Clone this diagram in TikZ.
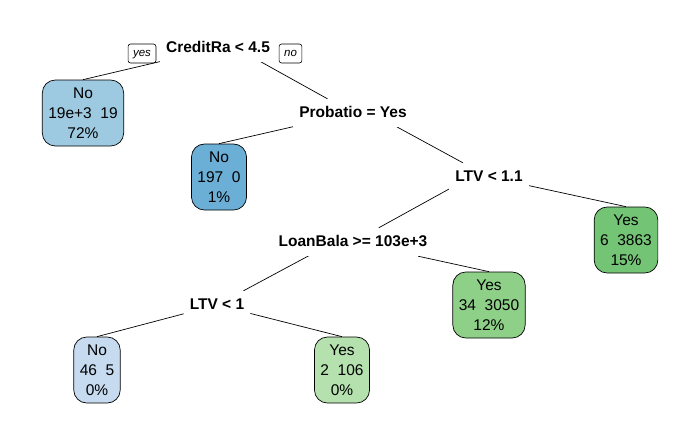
\documentclass[tikz,border=0pt]{standalone}
\usepackage{fontspec}
\setmainfont{Liberation Sans}
\usetikzlibrary{backgrounds}
\definecolor{bluelight}{RGB}{198, 219, 239}
\definecolor{bluemid}{RGB}{158, 202, 225}
\definecolor{bluedark}{RGB}{107, 174, 214}
\definecolor{greenlight}{RGB}{181, 225, 174}
\definecolor{greenmid}{RGB}{142, 208, 136}
\definecolor{greendark}{RGB}{116, 196, 118}

\begin{document}
\begin{tikzpicture}[x=1pt,y=-1pt,
  split/.style={fill=white, font=\fontsize{15.5}{18}\selectfont\bfseries, text height=11pt, text depth=3pt, inner xsep=6pt, inner ysep=7pt},
  leaf/.style={draw, line width=0.7pt, rounded corners=13pt, align=center, font=\fontsize{15.5}{20}\selectfont, inner xsep=6pt, minimum height=66pt},
  tag/.style={draw, line width=0.6pt, rounded corners=2.5pt, font=\fontsize{11.5}{13}\selectfont\itshape, inner xsep=5pt, text height=8.5pt, text depth=2.5pt, minimum height=19pt},
  branch/.style={line width=0.7pt}]
\useasboundingbox (0,0) rectangle (700,432);
% Split labels
\node[split] (root) at (218,48) {CreditRa < 4.5};
\node[split] (probatio) at (353,113) {Probatio = Yes};
\node[split] (ltvA) at (489,177) {LTV < 1.1};
\node[split] (loanbala) at (353,242) {LoanBala >= 103e+3};
\node[split] (ltvB) at (217,305) {LTV < 1};
\node[tag] (yes) at (142,53.5) {yes};
\node[tag] (no) at (290.5,53.5) {no};
% Leaves
\node[leaf, fill=bluemid] (noA) at (83,113) {No\\19e+3\ \ 19\\72\%};
\node[leaf, fill=bluedark] (noB) at (219,177) {No\\197\ \ 0\\1\%};
\node[leaf, fill=greendark] (yesA) at (626,240) {Yes\\6\ \ 3863\\15\%};
\node[leaf, fill=greenmid] (yesB) at (489,305) {Yes\\34\ \ 3050\\12\%};
\node[leaf, fill=bluelight] (noC) at (97,370) {No\\46\ \ 5\\0\%};
\node[leaf, fill=greenlight] (yesC) at (342,370) {Yes\\2\ \ 106\\0\%};
% Branches
\begin{scope}[on background layer]
\foreach \a/\b in {root/noA, probatio/noB, ltvA/yesA, loanbala/yesB, ltvB/noC, ltvB/yesC} {
    \draw[branch] (\a) -- (\b.north);
}
\foreach \a/\b in {root/probatio, probatio/ltvA, ltvA/loanbala, loanbala/ltvB} {
    \draw[branch] ([yshift=10pt]\a.center) -- (\b);
}
\end{scope}
\end{tikzpicture}
\end{document}
